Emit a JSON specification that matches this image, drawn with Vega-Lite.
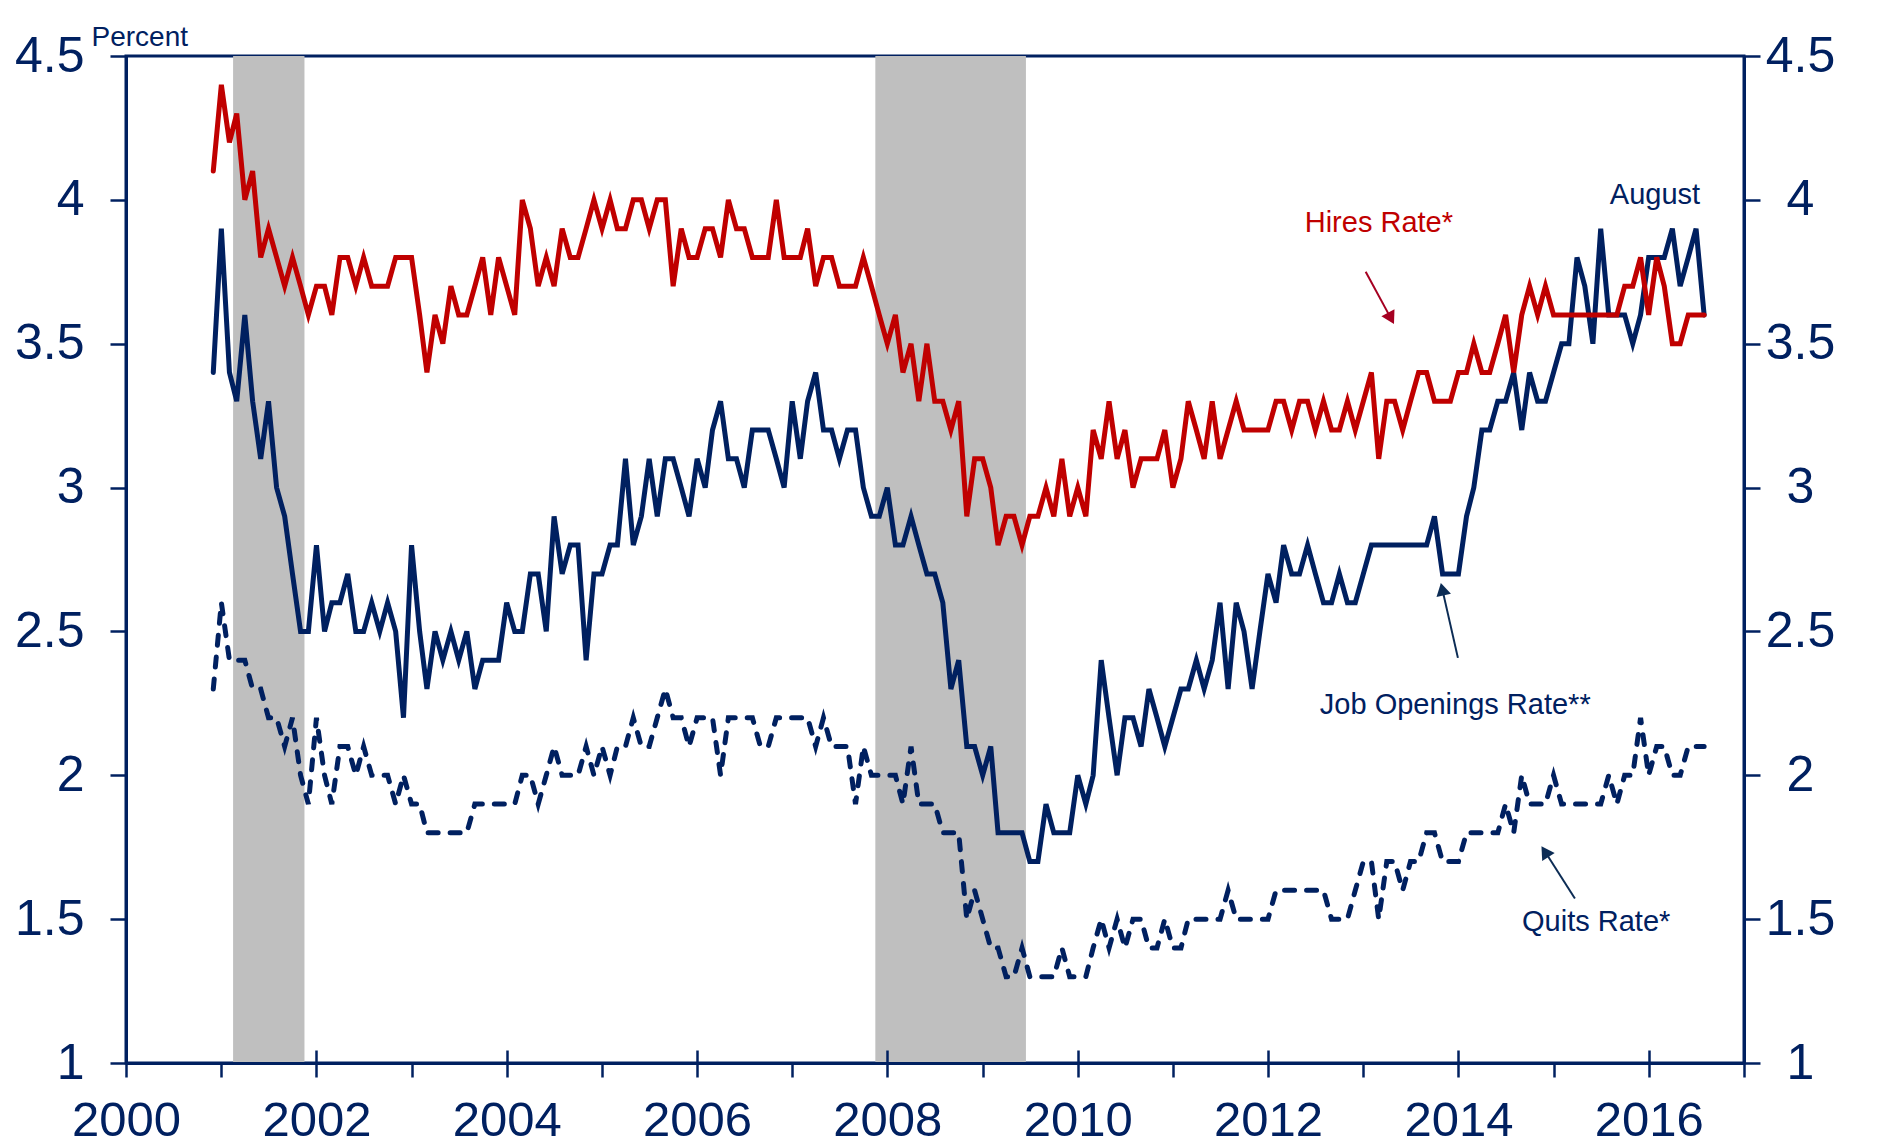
{
  "$schema": "https://vega.github.io/schema/vega-lite/v6.json",
  "width": 1618,
  "height": 1007,
  "autosize": {"type": "none"},
  "padding": {"left": 126, "top": 56, "right": 141, "bottom": 84},
  "background": "white",
  "config": {
    "view": {"stroke": "#002060", "strokeWidth": 3},
    "font": "Liberation Sans"
  },
  "data": {"values": [
    {"d":"2000-12-01","h":4.1,"j":3.4,"q":2.3},
    {"d":"2001-01-01","h":4.4,"j":3.9,"q":2.6},
    {"d":"2001-02-01","h":4.2,"j":3.4,"q":2.4},
    {"d":"2001-03-01","h":4.3,"j":3.3,"q":2.4},
    {"d":"2001-04-01","h":4.0,"j":3.6,"q":2.4},
    {"d":"2001-05-01","h":4.1,"j":3.3,"q":2.3},
    {"d":"2001-06-01","h":3.8,"j":3.1,"q":2.3},
    {"d":"2001-07-01","h":3.9,"j":3.3,"q":2.2},
    {"d":"2001-08-01","h":3.8,"j":3.0,"q":2.2},
    {"d":"2001-09-01","h":3.7,"j":2.9,"q":2.1},
    {"d":"2001-10-01","h":3.8,"j":2.7,"q":2.2},
    {"d":"2001-11-01","h":3.7,"j":2.5,"q":2.0},
    {"d":"2001-12-01","h":3.6,"j":2.5,"q":1.9},
    {"d":"2002-01-01","h":3.7,"j":2.8,"q":2.2},
    {"d":"2002-02-01","h":3.7,"j":2.5,"q":2.0},
    {"d":"2002-03-01","h":3.6,"j":2.6,"q":1.9},
    {"d":"2002-04-01","h":3.8,"j":2.6,"q":2.1},
    {"d":"2002-05-01","h":3.8,"j":2.7,"q":2.1},
    {"d":"2002-06-01","h":3.7,"j":2.5,"q":2.0},
    {"d":"2002-07-01","h":3.8,"j":2.5,"q":2.1},
    {"d":"2002-08-01","h":3.7,"j":2.6,"q":2.0},
    {"d":"2002-09-01","h":3.7,"j":2.5,"q":2.0},
    {"d":"2002-10-01","h":3.7,"j":2.6,"q":2.0},
    {"d":"2002-11-01","h":3.8,"j":2.5,"q":1.9},
    {"d":"2002-12-01","h":3.8,"j":2.2,"q":2.0},
    {"d":"2003-01-01","h":3.8,"j":2.8,"q":1.9},
    {"d":"2003-02-01","h":3.6,"j":2.5,"q":1.9},
    {"d":"2003-03-01","h":3.4,"j":2.3,"q":1.8},
    {"d":"2003-04-01","h":3.6,"j":2.5,"q":1.8},
    {"d":"2003-05-01","h":3.5,"j":2.4,"q":1.8},
    {"d":"2003-06-01","h":3.7,"j":2.5,"q":1.8},
    {"d":"2003-07-01","h":3.6,"j":2.4,"q":1.8},
    {"d":"2003-08-01","h":3.6,"j":2.5,"q":1.8},
    {"d":"2003-09-01","h":3.7,"j":2.3,"q":1.9},
    {"d":"2003-10-01","h":3.8,"j":2.4,"q":1.9},
    {"d":"2003-11-01","h":3.6,"j":2.4,"q":1.9},
    {"d":"2003-12-01","h":3.8,"j":2.4,"q":1.9},
    {"d":"2004-01-01","h":3.7,"j":2.6,"q":1.9},
    {"d":"2004-02-01","h":3.6,"j":2.5,"q":1.9},
    {"d":"2004-03-01","h":4.0,"j":2.5,"q":2.0},
    {"d":"2004-04-01","h":3.9,"j":2.7,"q":2.0},
    {"d":"2004-05-01","h":3.7,"j":2.7,"q":1.9},
    {"d":"2004-06-01","h":3.8,"j":2.5,"q":2.0},
    {"d":"2004-07-01","h":3.7,"j":2.9,"q":2.1},
    {"d":"2004-08-01","h":3.9,"j":2.7,"q":2.0},
    {"d":"2004-09-01","h":3.8,"j":2.8,"q":2.0},
    {"d":"2004-10-01","h":3.8,"j":2.8,"q":2.0},
    {"d":"2004-11-01","h":3.9,"j":2.4,"q":2.1},
    {"d":"2004-12-01","h":4.0,"j":2.7,"q":2.0},
    {"d":"2005-01-01","h":3.9,"j":2.7,"q":2.1},
    {"d":"2005-02-01","h":4.0,"j":2.8,"q":2.0},
    {"d":"2005-03-01","h":3.9,"j":2.8,"q":2.1},
    {"d":"2005-04-01","h":3.9,"j":3.1,"q":2.1},
    {"d":"2005-05-01","h":4.0,"j":2.8,"q":2.2},
    {"d":"2005-06-01","h":4.0,"j":2.9,"q":2.1},
    {"d":"2005-07-01","h":3.9,"j":3.1,"q":2.1},
    {"d":"2005-08-01","h":4.0,"j":2.9,"q":2.2},
    {"d":"2005-09-01","h":4.0,"j":3.1,"q":2.3},
    {"d":"2005-10-01","h":3.7,"j":3.1,"q":2.2},
    {"d":"2005-11-01","h":3.9,"j":3.0,"q":2.2},
    {"d":"2005-12-01","h":3.8,"j":2.9,"q":2.1},
    {"d":"2006-01-01","h":3.8,"j":3.1,"q":2.2},
    {"d":"2006-02-01","h":3.9,"j":3.0,"q":2.2},
    {"d":"2006-03-01","h":3.9,"j":3.2,"q":2.2},
    {"d":"2006-04-01","h":3.8,"j":3.3,"q":2.0},
    {"d":"2006-05-01","h":4.0,"j":3.1,"q":2.2},
    {"d":"2006-06-01","h":3.9,"j":3.1,"q":2.2},
    {"d":"2006-07-01","h":3.9,"j":3.0,"q":2.2},
    {"d":"2006-08-01","h":3.8,"j":3.2,"q":2.2},
    {"d":"2006-09-01","h":3.8,"j":3.2,"q":2.1},
    {"d":"2006-10-01","h":3.8,"j":3.2,"q":2.1},
    {"d":"2006-11-01","h":4.0,"j":3.1,"q":2.2},
    {"d":"2006-12-01","h":3.8,"j":3.0,"q":2.2},
    {"d":"2007-01-01","h":3.8,"j":3.3,"q":2.2},
    {"d":"2007-02-01","h":3.8,"j":3.1,"q":2.2},
    {"d":"2007-03-01","h":3.9,"j":3.3,"q":2.2},
    {"d":"2007-04-01","h":3.7,"j":3.4,"q":2.1},
    {"d":"2007-05-01","h":3.8,"j":3.2,"q":2.2},
    {"d":"2007-06-01","h":3.8,"j":3.2,"q":2.1},
    {"d":"2007-07-01","h":3.7,"j":3.1,"q":2.1},
    {"d":"2007-08-01","h":3.7,"j":3.2,"q":2.1},
    {"d":"2007-09-01","h":3.7,"j":3.2,"q":1.9},
    {"d":"2007-10-01","h":3.8,"j":3.0,"q":2.1},
    {"d":"2007-11-01","h":3.7,"j":2.9,"q":2.0},
    {"d":"2007-12-01","h":3.6,"j":2.9,"q":2.0},
    {"d":"2008-01-01","h":3.5,"j":3.0,"q":2.0},
    {"d":"2008-02-01","h":3.6,"j":2.8,"q":2.0},
    {"d":"2008-03-01","h":3.4,"j":2.8,"q":1.9},
    {"d":"2008-04-01","h":3.5,"j":2.9,"q":2.1},
    {"d":"2008-05-01","h":3.3,"j":2.8,"q":1.9},
    {"d":"2008-06-01","h":3.5,"j":2.7,"q":1.9},
    {"d":"2008-07-01","h":3.3,"j":2.7,"q":1.9},
    {"d":"2008-08-01","h":3.3,"j":2.6,"q":1.8},
    {"d":"2008-09-01","h":3.2,"j":2.3,"q":1.8},
    {"d":"2008-10-01","h":3.3,"j":2.4,"q":1.8},
    {"d":"2008-11-01","h":2.9,"j":2.1,"q":1.5},
    {"d":"2008-12-01","h":3.1,"j":2.1,"q":1.6},
    {"d":"2009-01-01","h":3.1,"j":2.0,"q":1.5},
    {"d":"2009-02-01","h":3.0,"j":2.1,"q":1.4},
    {"d":"2009-03-01","h":2.8,"j":1.8,"q":1.4},
    {"d":"2009-04-01","h":2.9,"j":1.8,"q":1.3},
    {"d":"2009-05-01","h":2.9,"j":1.8,"q":1.3},
    {"d":"2009-06-01","h":2.8,"j":1.8,"q":1.4},
    {"d":"2009-07-01","h":2.9,"j":1.7,"q":1.3},
    {"d":"2009-08-01","h":2.9,"j":1.7,"q":1.3},
    {"d":"2009-09-01","h":3.0,"j":1.9,"q":1.3},
    {"d":"2009-10-01","h":2.9,"j":1.8,"q":1.3},
    {"d":"2009-11-01","h":3.1,"j":1.8,"q":1.4},
    {"d":"2009-12-01","h":2.9,"j":1.8,"q":1.3},
    {"d":"2010-01-01","h":3.0,"j":2.0,"q":1.3},
    {"d":"2010-02-01","h":2.9,"j":1.9,"q":1.3},
    {"d":"2010-03-01","h":3.2,"j":2.0,"q":1.4},
    {"d":"2010-04-01","h":3.1,"j":2.4,"q":1.5},
    {"d":"2010-05-01","h":3.3,"j":2.2,"q":1.4},
    {"d":"2010-06-01","h":3.1,"j":2.0,"q":1.5},
    {"d":"2010-07-01","h":3.2,"j":2.2,"q":1.4},
    {"d":"2010-08-01","h":3.0,"j":2.2,"q":1.5},
    {"d":"2010-09-01","h":3.1,"j":2.1,"q":1.5},
    {"d":"2010-10-01","h":3.1,"j":2.3,"q":1.4},
    {"d":"2010-11-01","h":3.1,"j":2.2,"q":1.4},
    {"d":"2010-12-01","h":3.2,"j":2.1,"q":1.5},
    {"d":"2011-01-01","h":3.0,"j":2.2,"q":1.4},
    {"d":"2011-02-01","h":3.1,"j":2.3,"q":1.4},
    {"d":"2011-03-01","h":3.3,"j":2.3,"q":1.5},
    {"d":"2011-04-01","h":3.2,"j":2.4,"q":1.5},
    {"d":"2011-05-01","h":3.1,"j":2.3,"q":1.5},
    {"d":"2011-06-01","h":3.3,"j":2.4,"q":1.5},
    {"d":"2011-07-01","h":3.1,"j":2.6,"q":1.5},
    {"d":"2011-08-01","h":3.2,"j":2.3,"q":1.6},
    {"d":"2011-09-01","h":3.3,"j":2.6,"q":1.5},
    {"d":"2011-10-01","h":3.2,"j":2.5,"q":1.5},
    {"d":"2011-11-01","h":3.2,"j":2.3,"q":1.5},
    {"d":"2011-12-01","h":3.2,"j":2.5,"q":1.5},
    {"d":"2012-01-01","h":3.2,"j":2.7,"q":1.5},
    {"d":"2012-02-01","h":3.3,"j":2.6,"q":1.6},
    {"d":"2012-03-01","h":3.3,"j":2.8,"q":1.6},
    {"d":"2012-04-01","h":3.2,"j":2.7,"q":1.6},
    {"d":"2012-05-01","h":3.3,"j":2.7,"q":1.6},
    {"d":"2012-06-01","h":3.3,"j":2.8,"q":1.6},
    {"d":"2012-07-01","h":3.2,"j":2.7,"q":1.6},
    {"d":"2012-08-01","h":3.3,"j":2.6,"q":1.6},
    {"d":"2012-09-01","h":3.2,"j":2.6,"q":1.5},
    {"d":"2012-10-01","h":3.2,"j":2.7,"q":1.5},
    {"d":"2012-11-01","h":3.3,"j":2.6,"q":1.5},
    {"d":"2012-12-01","h":3.2,"j":2.6,"q":1.6},
    {"d":"2013-01-01","h":3.3,"j":2.7,"q":1.7},
    {"d":"2013-02-01","h":3.4,"j":2.8,"q":1.7},
    {"d":"2013-03-01","h":3.1,"j":2.8,"q":1.5},
    {"d":"2013-04-01","h":3.3,"j":2.8,"q":1.7},
    {"d":"2013-05-01","h":3.3,"j":2.8,"q":1.7},
    {"d":"2013-06-01","h":3.2,"j":2.8,"q":1.6},
    {"d":"2013-07-01","h":3.3,"j":2.8,"q":1.7},
    {"d":"2013-08-01","h":3.4,"j":2.8,"q":1.7},
    {"d":"2013-09-01","h":3.4,"j":2.8,"q":1.8},
    {"d":"2013-10-01","h":3.3,"j":2.9,"q":1.8},
    {"d":"2013-11-01","h":3.3,"j":2.7,"q":1.7},
    {"d":"2013-12-01","h":3.3,"j":2.7,"q":1.7},
    {"d":"2014-01-01","h":3.4,"j":2.7,"q":1.7},
    {"d":"2014-02-01","h":3.4,"j":2.9,"q":1.8},
    {"d":"2014-03-01","h":3.5,"j":3.0,"q":1.8},
    {"d":"2014-04-01","h":3.4,"j":3.2,"q":1.8},
    {"d":"2014-05-01","h":3.4,"j":3.2,"q":1.8},
    {"d":"2014-06-01","h":3.5,"j":3.3,"q":1.8},
    {"d":"2014-07-01","h":3.6,"j":3.3,"q":1.9},
    {"d":"2014-08-01","h":3.4,"j":3.4,"q":1.8},
    {"d":"2014-09-01","h":3.6,"j":3.2,"q":2.0},
    {"d":"2014-10-01","h":3.7,"j":3.4,"q":1.9},
    {"d":"2014-11-01","h":3.6,"j":3.3,"q":1.9},
    {"d":"2014-12-01","h":3.7,"j":3.3,"q":1.9},
    {"d":"2015-01-01","h":3.6,"j":3.4,"q":2.0},
    {"d":"2015-02-01","h":3.6,"j":3.5,"q":1.9},
    {"d":"2015-03-01","h":3.6,"j":3.5,"q":1.9},
    {"d":"2015-04-01","h":3.6,"j":3.8,"q":1.9},
    {"d":"2015-05-01","h":3.6,"j":3.7,"q":1.9},
    {"d":"2015-06-01","h":3.6,"j":3.5,"q":1.9},
    {"d":"2015-07-01","h":3.6,"j":3.9,"q":1.9},
    {"d":"2015-08-01","h":3.6,"j":3.6,"q":2.0},
    {"d":"2015-09-01","h":3.6,"j":3.6,"q":1.9},
    {"d":"2015-10-01","h":3.7,"j":3.6,"q":2.0},
    {"d":"2015-11-01","h":3.7,"j":3.5,"q":2.0},
    {"d":"2015-12-01","h":3.8,"j":3.6,"q":2.2},
    {"d":"2016-01-01","h":3.6,"j":3.8,"q":2.0},
    {"d":"2016-02-01","h":3.8,"j":3.8,"q":2.1},
    {"d":"2016-03-01","h":3.7,"j":3.8,"q":2.1},
    {"d":"2016-04-01","h":3.5,"j":3.9,"q":2.0},
    {"d":"2016-05-01","h":3.5,"j":3.7,"q":2.0},
    {"d":"2016-06-01","h":3.6,"j":3.8,"q":2.1},
    {"d":"2016-07-01","h":3.6,"j":3.9,"q":2.1},
    {"d":"2016-08-01","h":3.6,"j":3.6,"q":2.1}
  ]},
  "resolve": {
    "axis": {"x": "independent", "y": "independent"},
    "scale": {"color": "independent"}
  },
  "layer": [
    {
      "data": {"values": [
        {"start": "2001-02-15", "end": "2001-11-16"},
        {"start": "2007-11-16", "end": "2009-06-16"}
      ]},
      "mark": {"type": "rect", "color": "#BFBFBF"},
      "encoding": {
        "x": {"field": "start", "type": "temporal", "axis": null,
              "scale": {"type": "utc", "nice": false, "domain": [{"year": 2000, "month": 1, "date": 1, "utc": true}, {"year": 2017, "month": 1, "date": 1, "utc": true}]}},
        "x2": {"field": "end"}
      }
    },
    {
      "mark": {"type": "line", "color": "#002060", "strokeWidth": 5, "strokeDash": [10, 12], "strokeCap": "round"},
      "encoding": {
        "x": {"field": "d", "type": "temporal",
              "scale": {"type": "utc", "nice": false, "domain": [{"year": 2000, "month": 1, "date": 1, "utc": true}, {"year": 2017, "month": 1, "date": 1, "utc": true}]},
              "axis": {"orient": "bottom", "title": null, "labels": false, "domain": false, "grid": false,
                       "tickSize": -13, "tickWidth": 2.5, "tickColor": "#002060", "zindex": 2,
                       "values": [{"year":2000,"utc":true},{"year":2002,"utc":true},{"year":2004,"utc":true},{"year":2006,"utc":true},{"year":2008,"utc":true},{"year":2010,"utc":true},{"year":2012,"utc":true},{"year":2014,"utc":true},{"year":2016,"utc":true}]}},
        "y": {"field": "q", "type": "quantitative",
              "scale": {"domain": [1, 4.5], "nice": false, "zero": false},
              "axis": {"orient": "right", "title": null, "values": [1, 1.5, 2, 2.5, 3, 3.5, 4, 4.5], "format": "~g",
                       "labelFontSize": 50, "labelColor": "#002060", "labelFont": "Liberation Sans", "labelAlign": "center", "labelPadding": 40,
                       "labelFlush": false, "labelOverlap": false, "labelBound": false,
                       "tickSize": 16, "tickWidth": 2.5, "tickColor": "#002060",
                       "domainColor": "#002060", "domainWidth": 3, "grid": false, "zindex": 2}}
      }
    },
    {
      "mark": {"type": "line", "color": "#002060", "strokeWidth": 5, "strokeCap": "round"},
      "encoding": {
        "x": {"field": "d", "type": "temporal", "axis": null,
              "scale": {"type": "utc", "nice": false, "domain": [{"year": 2000, "month": 1, "date": 1, "utc": true}, {"year": 2017, "month": 1, "date": 1, "utc": true}]}},
        "y": {"field": "j", "type": "quantitative", "axis": null,
              "scale": {"domain": [1, 4.5], "nice": false, "zero": false}}
      }
    },
    {
      "mark": {"type": "line", "color": "#C00000", "strokeWidth": 5, "strokeCap": "round"},
      "encoding": {
        "x": {"field": "d", "type": "temporal",
              "scale": {"type": "utc", "nice": false, "domain": [{"year": 2000, "month": 1, "date": 1, "utc": true}, {"year": 2017, "month": 1, "date": 1, "utc": true}]},
              "axis": {"orient": "bottom", "title": null, "grid": false,
                       "values": [{"year":2000,"utc":true},{"year":2001,"utc":true},{"year":2002,"utc":true},{"year":2003,"utc":true},{"year":2004,"utc":true},{"year":2005,"utc":true},{"year":2006,"utc":true},{"year":2007,"utc":true},{"year":2008,"utc":true},{"year":2009,"utc":true},{"year":2010,"utc":true},{"year":2011,"utc":true},{"year":2012,"utc":true},{"year":2013,"utc":true},{"year":2014,"utc":true},{"year":2015,"utc":true},{"year":2016,"utc":true},{"year":2017,"utc":true}],
                       "labelExpr": "utcyear(datum.value) % 2 === 0 && utcyear(datum.value) < 2017 ? utcFormat(datum.value, '%Y') : ''",
                       "labelFontSize": 49, "labelColor": "#002060", "labelFont": "Liberation Sans", "labelPadding": 19, "labelAngle": 0,
                       "labelFlush": false, "labelOverlap": false, "labelBound": false,
                       "tickSize": 14, "tickWidth": 2.5, "tickColor": "#002060",
                       "domainColor": "#002060", "domainWidth": 3, "zindex": 2}},
        "y": {"field": "h", "type": "quantitative",
              "scale": {"domain": [1, 4.5], "nice": false, "zero": false},
              "axis": {"orient": "left", "values": [1, 1.5, 2, 2.5, 3, 3.5, 4, 4.5], "format": "~g",
                       "labelFontSize": 50, "labelColor": "#002060", "labelFont": "Liberation Sans", "labelPadding": 26,
                       "labelFlush": false, "labelOverlap": false, "labelBound": false,
                       "tickSize": 16, "tickWidth": 2.5, "tickColor": "#002060",
                       "domainColor": "#002060", "domainWidth": 3, "grid": false, "zindex": 2,
                       "title": "Percent", "titleAngle": 0, "titleX": -35, "titleY": -11, "titleAlign": "left", "titleBaseline": "alphabetic",
                       "titleFontSize": 28, "titleFontWeight": "normal", "titleColor": "#002060", "titleFont": "Liberation Sans"}}
      }
    },
    {
      "data": {"values": [
        {"s": "h", "d1": "2013-01-10", "v1": 3.750, "d2": "2013-04-17", "v2": 3.588},
        {"s": "o", "d1": "2013-12-30", "v1": 2.408, "d2": "2013-10-31", "v2": 2.647},
        {"s": "q", "d1": "2015-03-24", "v1": 1.572, "d2": "2014-11-29", "v2": 1.735}
      ]},
      "mark": {"type": "rule", "strokeWidth": 2},
      "encoding": {
        "x": {"field": "d1", "type": "temporal", "axis": null,
              "scale": {"type": "utc", "nice": false, "domain": [{"year": 2000, "month": 1, "date": 1, "utc": true}, {"year": 2017, "month": 1, "date": 1, "utc": true}]}},
        "x2": {"field": "d2"},
        "y": {"field": "v1", "type": "quantitative", "axis": null,
              "scale": {"domain": [1, 4.5], "nice": false, "zero": false}},
        "y2": {"field": "v2"},
        "color": {"field": "s", "type": "nominal", "legend": null,
                  "scale": {"domain": ["h", "o", "q"], "range": ["#A50021", "#0C2C55", "#0C2C55"]}}
      }
    },
    {
      "data": {"values": [{"d": "2013-04-17", "v": 3.588}]},
      "mark": {"type": "point", "shape": "triangle-up", "filled": true, "size": 220, "angle": 152, "color": "#A50021", "opacity": 1},
      "encoding": {
        "x": {"field": "d", "type": "temporal", "axis": null,
              "scale": {"type": "utc", "nice": false, "domain": [{"year": 2000, "month": 1, "date": 1, "utc": true}, {"year": 2017, "month": 1, "date": 1, "utc": true}]}},
        "y": {"field": "v", "type": "quantitative", "axis": null,
              "scale": {"domain": [1, 4.5], "nice": false, "zero": false}}
      }
    },
    {
      "data": {"values": [{"d": "2013-10-31", "v": 2.647}]},
      "mark": {"type": "point", "shape": "triangle-up", "filled": true, "size": 220, "angle": 347, "color": "#0C2C55", "opacity": 1},
      "encoding": {
        "x": {"field": "d", "type": "temporal", "axis": null,
              "scale": {"type": "utc", "nice": false, "domain": [{"year": 2000, "month": 1, "date": 1, "utc": true}, {"year": 2017, "month": 1, "date": 1, "utc": true}]}},
        "y": {"field": "v", "type": "quantitative", "axis": null,
              "scale": {"domain": [1, 4.5], "nice": false, "zero": false}}
      }
    },
    {
      "data": {"values": [{"d": "2014-11-29", "v": 1.735}]},
      "mark": {"type": "point", "shape": "triangle-up", "filled": true, "size": 220, "angle": 327, "color": "#0C2C55", "opacity": 1},
      "encoding": {
        "x": {"field": "d", "type": "temporal", "axis": null,
              "scale": {"type": "utc", "nice": false, "domain": [{"year": 2000, "month": 1, "date": 1, "utc": true}, {"year": 2017, "month": 1, "date": 1, "utc": true}]}},
        "y": {"field": "v", "type": "quantitative", "axis": null,
              "scale": {"domain": [1, 4.5], "nice": false, "zero": false}}
      }
    },
    {
      "data": {"values": [
        {"d": "2012-05-21", "v": 3.889, "label": "Hires Rate*", "s": "h"},
        {"d": "2015-08-05", "v": 3.986, "label": "August", "s": "o"},
        {"d": "2012-07-18", "v": 2.213, "label": "Job Openings Rate**", "s": "o"},
        {"d": "2014-09-02", "v": 1.460, "label": "Quits Rate*", "s": "o"}
      ]},
      "mark": {"type": "text", "align": "left", "baseline": "alphabetic", "fontSize": 29, "font": "Liberation Sans"},
      "encoding": {
        "x": {"field": "d", "type": "temporal", "axis": null,
              "scale": {"type": "utc", "nice": false, "domain": [{"year": 2000, "month": 1, "date": 1, "utc": true}, {"year": 2017, "month": 1, "date": 1, "utc": true}]}},
        "y": {"field": "v", "type": "quantitative", "axis": null,
              "scale": {"domain": [1, 4.5], "nice": false, "zero": false}},
        "text": {"field": "label"},
        "color": {"field": "s", "type": "nominal", "legend": null,
                  "scale": {"domain": ["h", "o"], "range": ["#C00000", "#002060"]}}
      }
    }
  ]
}
